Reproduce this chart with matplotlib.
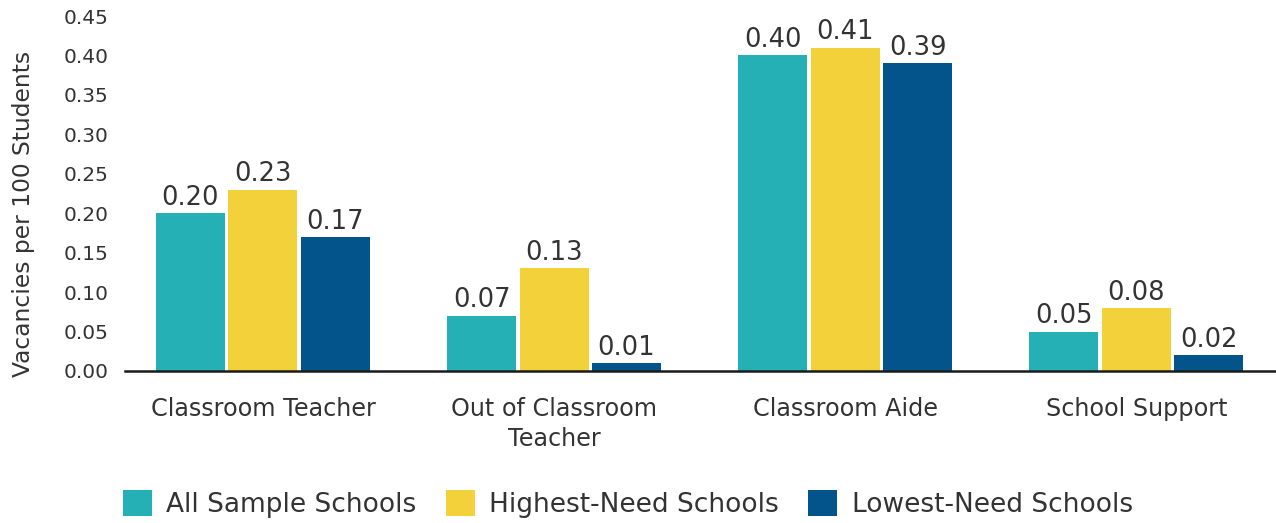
import numpy as np
import matplotlib.pyplot as plt
import matplotlib.transforms as mtransforms
from matplotlib.patches import Patch

# Data
categories = ['Classroom Teacher', 'Out of Classroom\nTeacher', 'Classroom Aide', 'School Support']
series_names = ['All Sample Schools', 'Highest-Need Schools', 'Lowest-Need Schools']
all_schools = [0.20, 0.07, 0.40, 0.05]
highest_need = [0.23, 0.13, 0.41, 0.08]
lowest_need = [0.17, 0.01, 0.39, 0.02]
yticks = [0.00, 0.05, 0.10, 0.15, 0.20, 0.25, 0.30, 0.35, 0.40, 0.45]

colors = ['#25B0B5', '#F2D13A', '#04548C']
text_color = '#333333'
plt.rcParams['font.family'] = 'DejaVu Sans'

fig = plt.figure(figsize=(12.76, 5.23), dpi=100)
ax = fig.add_axes([125 / 1276, (523 - 371) / 523, 1 - 125 / 1276, (371 - 16) / 523])

x = np.arange(len(categories))
width = 0.237
pitch = 0.249
for i, (vals, col) in enumerate(zip([all_schools, highest_need, lowest_need], colors)):
    pos = x + (i - 1) * pitch
    bars = ax.bar(pos, vals, width=width, color=col, zorder=2)
    for b, v in zip(bars, vals):
        ax.text(b.get_x() + b.get_width() / 2, v + 0.003, f'{v:.2f}',
                ha='center', va='bottom', fontsize=18.5, color=text_color)

ax.set_xlim(-0.474, 3.48)
ax.set_ylim(0, 0.45)
ax.set_yticks(yticks)
ax.set_yticklabels([f'{t:.2f}' for t in yticks], fontsize=14.5, color=text_color)
# tick labels sit a little below their value in the original
shift = mtransforms.ScaledTranslation(0, -0.035, fig.dpi_scale_trans)
for lbl in ax.get_yticklabels():
    lbl.set_transform(lbl.get_transform() + shift)
ax.set_xticks(x)
ax.set_xticklabels(categories, fontsize=17.2, color=text_color, linespacing=1.3)
ax.tick_params(axis='both', length=0)
ax.tick_params(axis='x', pad=19)
ax.tick_params(axis='y', pad=12)
for s in ['top', 'right', 'left']:
    ax.spines[s].set_visible(False)
ax.spines['bottom'].set_linewidth(1.8)
ax.spines['bottom'].set_color('#1a1a1a')
ax.set_ylabel('Vacancies per 100 Students', fontsize=16.8, color=text_color)
ax.yaxis.set_label_coords(-0.078, 0.442)

handles = [Patch(facecolor=c, edgecolor='none') for c in colors]
fig.legend(handles, series_names, loc='lower center', bbox_to_anchor=(0.492, -0.036),
           ncol=3, frameon=False, fontsize=19, handlelength=1.1, handleheight=1.1,
           handletextpad=0.55, columnspacing=1.1, labelcolor=text_color)

fig.savefig('out.png', dpi=100)
